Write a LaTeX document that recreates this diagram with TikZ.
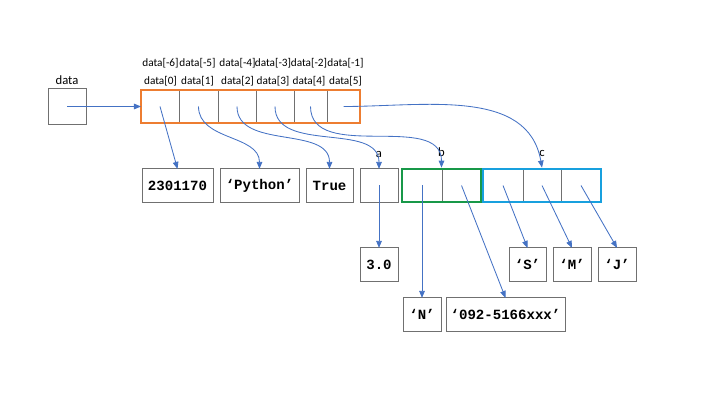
\documentclass[tikz,border=0pt]{standalone}
\usepackage{fontspec}
\setmainfont{Carlito}
\newfontfamily\codefont{Liberation Mono}
\usetikzlibrary{positioning,arrows.meta,fit}
\definecolor{arrblue}{RGB}{68,114,196}
\definecolor{boxgray}{RGB}{112,112,112}
\definecolor{listorange}{RGB}{237,125,49}
\definecolor{tuplegreen}{RGB}{24,152,72}
\definecolor{listblue}{RGB}{24,160,222}
\tikzset{
  cellbox/.style={draw=boxgray, line width=0.7pt, minimum width=#1*0.025cm, minimum height=0.83cm, inner sep=0pt, outer sep=0pt},
  valbox/.style={cellbox=#1, font=\codefont\bfseries\fontsize{10}{11}\selectfont},
  idx/.style={font=\fontsize{8}{9}\selectfont, inner sep=1pt},
  lab/.style={font=\fontsize{9}{10}\selectfont, inner sep=1pt, text height=1.5ex, text depth=0pt},
  ptr/.style={draw=arrblue, line width=0.6pt, -{Triangle[length=5pt,width=4pt]}},
}

\begin{document}
\begin{tikzpicture}[x=0.025cm, y=-0.025cm]
\useasboundingbox (0,0) rectangle (720,405);
\node[lab] (dname) at (67,79) {data};
\node[cellbox=38, minimum height=0.875cm] (db) at (67,106.5) {};
\foreach \i/\k/\x/\w/\lx in {0/6/160/38/160.5, 1/5/198.5/39/197.5, 2/4/237/38/237.5, 3/3/275/38/273, 4/2/310.5/33/309, 5/1/343.5/33/345.5}{
  \node[cellbox=\w] (s\i) at (\x,106.5) {};
  \node[idx] (p\i) at (\lx,81.5) {data[\i]};
  \node[idx] (n\i) at (\lx,63.5) {data[-\k]};
}
\draw[listorange, line width=1.8pt] (s0.north west) rectangle (s5.south east);

\node[valbox=71] (v0) at (177.5,185.5) {2301170};
\node[valbox=79] (v1) at (259.5,185.5) {‘Python’};
\node[valbox=47] (v2) at (329.5,185.5) {True};
\node[cellbox=38] (a) at (379,185.5) {};
\node[cellbox=40] (b0) at (422,185.5) {};
\node[cellbox=39] (b1) at (461.5,185.5) {};
\node[fit=(b0)(b1), draw=tuplegreen, line width=1.8pt, inner sep=0pt] (b) {};
\node[cellbox=40] (c0) at (503,185.5) {};
\node[cellbox=38] (c1) at (542,185.5) {};
\node[cellbox=40] (c2) at (581,185.5) {};
\node[fit=(c0)(c2), draw=listblue, line width=1.8pt, inner sep=0pt] (c) {};
\node[lab, above=7pt of a] (la) {a};
\node[lab, above=7pt of b] (lb) {b};
\node[lab, above=7pt of c] (lc) {c};

\node[valbox=38] (f) at (379,264.5) {3.0};
\node[valbox=37] (vs) at (527.5,264.5) {‘S’};
\node[valbox=38] (vm) at (572,264.5) {‘M’};
\node[valbox=38] (vj) at (617,264.5) {‘J’};
\node[valbox=38] (vn) at (422,314.5) {‘N’};
\node[valbox=119] (vt) at (505.5,314.5) {‘092-5166xxx’};

\draw[ptr] (db.center) -- (s0.west);
\draw[ptr] (s0.center) -- (v0.north);
\draw[ptr] (s1.center) to[out=-90,in=90] (v1.north);
\draw[ptr] (s2.center) to[out=-90,in=90] (v2.north);
\draw[ptr] (s3.center) to[out=-90,in=90] (a.north);
\draw[ptr] (s4.center) to[out=-90,in=90] (b.north);
\draw[ptr] (s5.center) to[out=0,in=100] (c.north);
\draw[ptr] (a.center) -- (f.north);
\draw[ptr] (b0.center) -- (vn.north);
\draw[ptr] (b1.center) -- (vt.north);
\draw[ptr] (c0.center) -- (vs.north);
\draw[ptr] (c1.center) -- (vm.north);
\draw[ptr] (c2.center) -- (vj.north);
\end{tikzpicture}
\end{document}
